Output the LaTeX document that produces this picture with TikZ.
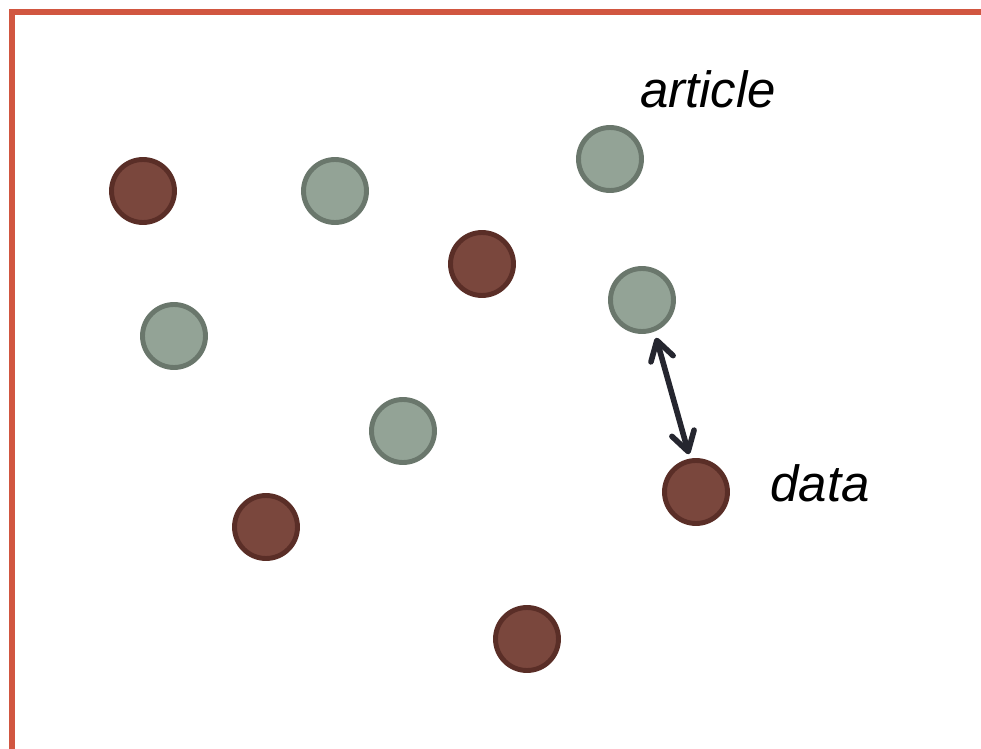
\documentclass[tikz,border=0pt]{standalone}
\usepackage{fontspec}
\setmainfont{Liberation Sans}
\usepackage{tikz}
\usetikzlibrary{arrows.meta}

\definecolor{framered}{HTML}{D15640}
\definecolor{datafill}{HTML}{7A473D}
\definecolor{dataline}{HTML}{5A2E27}
\definecolor{artfill}{HTML}{93A396}
\definecolor{artline}{HTML}{6A776C}
\definecolor{linkcol}{HTML}{25262F}

\begin{document}
\begin{tikzpicture}[x=0.02cm, y=-0.02cm, >={Straight Barb[length=3.8mm, width=4.6mm, round]}]
			\tikzstyle{data}=[circle, inner sep=0pt, minimum size=1.26cm, line width=2.8pt, draw=dataline, fill=datafill]
			\tikzstyle{article}=[circle, inner sep=0pt, minimum size=1.26cm, line width=2.8pt, draw=artline, fill=artfill]
			\tikzstyle{tag}=[inner sep=0pt, font=\fontsize{29}{35}\selectfont\itshape]
			\tikzstyle{link}=[<->, linkcol, line width=3.2pt, line cap=round, shorten <=3pt, shorten >=3pt]

			\useasboundingbox (0,0) rectangle (981,749);
			\draw [framered, line width=2.9pt] (12,749) -- (12,12) -- (981,12);

			\node (D1) [data] at (143,191) {};
			\node (D2) [data] at (482,264) {};
			\node (D3) [data] at (696,492) {};
			\node (D4) [data] at (266,527) {};
			\node (D5) [data] at (527,639) {};

			\node (A1) [article] at (335,191) {};
			\node (A2) [article] at (610,159) {};
			\node (A3) [article] at (642,300) {};
			\node (A4) [article] at (174,336) {};
			\node (A5) [article] at (403,431) {};

			\node (art) [tag] at (708,89) {article};
			\node (dat) [tag] at (820,483) {data};

			\draw [link, transform canvas={xshift=2pt}] (A3) -- (D3);
		\end{tikzpicture}
\end{document}
